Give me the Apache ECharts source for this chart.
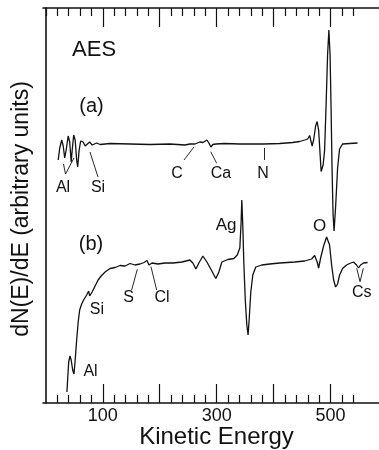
<!DOCTYPE html>
<html>
<head>
<meta charset="utf-8">
<script src="https://cdn.jsdelivr.net/npm/echarts@6/dist/echarts.min.js"></script>
<style>
html,body{margin:0;padding:0;background:#fff;}
#chart{width:379px;height:450px;}
</style>
</head>
<body>
<div id="chart"></div>
<script>
// ---- data (energy in eV, signal in arbitrary units) ----
const aEnergy = [21.7,24.4,27.9,30.5,33.1,35.7,39.2,41.9,44.5,46.3,48.9,51.5,54.1,55.9,58.5,61.1,65.5,69,72.5,76.9,81.3,84.8,89.2,95.3,112.8,147.9,182.9,217.9,244.2,253,261.8,270.5,275.8,279.3,282.8,286.3,289.8,293.3,298.5,314.3,340.6,382.6,410.6,433.4,445.7,454.5,459.7,463.2,467.6,470.2,473.7,476.3,479,483.4,486.9,489.5,492.1,494.7,497,499.1,500.9,502.6,504.4,506.1,508.8,512.3,515.8,521,533.3,547.3];
const aSignal = [243,255,263,257,245,253,267,261,241,253,268,263,243,236,253,262,261,257,255,261,258,257,260,258.5,259.5,259,258.5,259,258,259,259,261,260.5,261.5,263,260,256,258.5,259,259.5,259,259,259.5,260.5,261.5,263,264,267.5,257,263,277,281.5,273,231.5,238,253,298,348,373,348,293,233,188,172,196,235,254,259,259.5,260];
const bEnergy = [37,38.4,40.1,42.4,44.5,47.1,49.4,51.5,54.1,56.8,59.4,62.9,67.3,71.7,75.2,76.9,78.7,81.3,86.5,91.8,97.1,104.1,112.8,121.6,130.3,139.1,147.9,156.6,165.4,172.4,177.6,181.1,186.4,196.9,209.2,223.2,239,253,258.2,263.5,268.7,275.8,282.8,291.5,298.5,303.8,309.1,319.6,330.1,336.2,340.6,342.9,344.1,345.8,347.6,350.2,352.9,355.1,357.2,359.9,363.4,368.6,379.1,393.1,410.6,436.9,454.5,466.7,472,476.4,479,482.5,487.7,493,495.3,498.2,501.8,505.3,508.8,512.3,515.8,521,528,533.3,540.3,545.6,549.1,552.6,557.9,564.9];
const bSignal = [11,25,41,47,43,33,29,43,63,81,93,99,104,108,112,107,105,111,117,123,127,131,134.5,135.5,137.5,137,139.5,138,139,140.5,142.5,138,140,139,140,140,141,143,140,134,140,147,141,132,124.5,131,141,143.5,144.5,148,155,181,203,178,141,103,78,68,85,111,128,136,138,139,140,141,142,144,147.5,141,135,145,157,166,167.5,158,138,123,116,119,128,134.5,138,139.5,141,138,135,138,140,140.5];

// axis ticks
const majorTicks = [100,200,300,400,500];
const tickLabels = [100,300,500];
const minorTicksBottom = [20,40,60,80,120,140,160,180,220,240,260,280,320,340,360,380,420,440,460,480,520,540];
const minorTicksTop = [0,20,40,60,80,120,140,160,180,220,240,260,280,320,340,360,380,420,440,460,480,520,540];

// annotations: text with [energy, signal] anchor
const noteTexts  = ['AES','(a)','(b)','Al','Si','C','Ca','N','Ag','O','Si','S','Cl','Al','Cs'];
const noteEnergy = [84.7,80.2,79.3,30.1,91.6,230.2,307.5,381.3,316.4,480.9,89.8,145.1,204,78.4,554.6];
const noteSignal = [353,297,159,215,215,229,229,229,178,176.3,93,105,105,31,110.5];
const noteSize   = [22,20,20,16,16,16,16,16,17,17,16,16,16,16,16];
// leader lines: [E1, v1, E2, v2]
const leaders = [
  [34.5,229,31,239],[34.5,229,49.4,245],
  [91.6,226,77.5,251],
  [242.6,243,260.1,256],
  [289.5,251.3,300,239.7],
  [383,255,383,243],
  [150.7,113,160.6,133.7],
  [194.6,113,184.6,136.3],
  [551.7,121.3,545.9,134.7],[551.7,121.3,557.5,134.7]
];

const INK = '#111';
const FONT = '"Liberation Sans", Arial, Helvetica, sans-serif';
const xMin = -5, xMax = 585;

function xAxisDef(pos, ticks, len, lineShow, labels) {
  return {
    type: 'value', position: pos, min: xMin, max: xMax,
    axisLine: { show: lineShow, lineStyle: { color: INK, width: 1.6 } },
    axisTick: { show: true, inside: true, length: len, customValues: ticks, lineStyle: { color: INK, width: 1.2 } },
    axisLabel: labels ? { show: true, customValues: labels, fontSize: 18, color: INK, fontFamily: FONT, margin: 4 } : { show: false },
    splitLine: { show: false }
  };
}

const chart = echarts.init(document.getElementById('chart'), null, { renderer: 'canvas' });
chart.setOption({
  animation: false,
  backgroundColor: '#fff',
  grid: { left: 43, right: 0, top: 8, bottom: 47, containLabel: false },
  xAxis: [
    xAxisDef('bottom', majorTicks, 19, true, tickLabels),
    xAxisDef('bottom', minorTicksBottom, 8, false, null),
    xAxisDef('top', majorTicks, 19, true, null),
    xAxisDef('top', minorTicksTop, 8, false, null)
  ],
  yAxis: {
    type: 'value', min: 0, max: 395,
    axisLine: { show: true, lineStyle: { color: INK, width: 1.6 } },
    axisTick: { show: false }, axisLabel: { show: false }, splitLine: { show: false }
  },
  graphic: [
    { type: 'text', x: 22, y: 209, rotation: Math.PI / 2,
      style: { text: 'dN(E)/dE (arbitrary units)', fontSize: 23, fontFamily: FONT, fill: INK, align: 'center', verticalAlign: 'middle' } },
    { type: 'text', x: 216.5, y: 437,
      style: { text: 'Kinetic Energy', fontSize: 24, fontFamily: FONT, fill: INK, align: 'center', verticalAlign: 'middle' } }
  ],
  series: [
    { type: 'line', name: 'a', data: aEnergy.map((e, i) => [e, aSignal[i]]), showSymbol: false, symbol: 'none',
      lineStyle: { color: INK, width: 1.3 }, silent: true,
      markLine: { silent: true, symbol: 'none', label: { show: false },
        lineStyle: { color: INK, width: 0.9, type: 'solid' },
        data: leaders.map(l => [{ coord: [l[0], l[1]] }, { coord: [l[2], l[3]] }]) } },
    { type: 'line', name: 'b', data: bEnergy.map((e, i) => [e, bSignal[i]]), showSymbol: false, symbol: 'none',
      lineStyle: { color: INK, width: 1.3 }, silent: true },
    { type: 'scatter', silent: true, symbol: 'circle', symbolSize: 1,
      itemStyle: { color: 'transparent', opacity: 1 },
      data: noteTexts.map((t, i) => ({ value: [noteEnergy[i], noteSignal[i]], name: t,
        label: { show: true, position: 'inside', formatter: t, fontSize: noteSize[i], color: INK, opacity: 1,
          textBorderWidth: 0, fontFamily: FONT } })) }
  ]
});
</script>
</body>
</html>
